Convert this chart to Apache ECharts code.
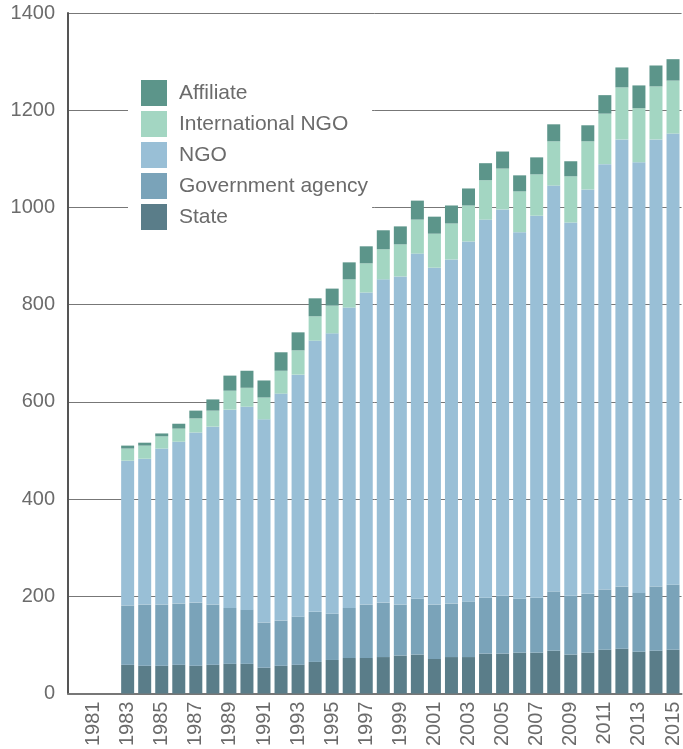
<!DOCTYPE html>
<html>
<head>
<meta charset="utf-8">
<script src="https://cdn.jsdelivr.net/npm/echarts@6/dist/echarts.min.js"></script>
<style>
  html, body { margin: 0; padding: 0; background: #fff; }
  #main { width: 683px; height: 749px; }
</style>
</head>
<body>
<div id="main"></div>
<script>
// years, 1980 is an empty slot so 1981 sits one band in from the axis
var years = [];
for (var y = 1980; y <= 2015; y++) years.push(String(y));

// values from 1983 to 2015 (1980-1982 have no bars)
var state = [59, 57, 57, 59, 57, 59, 61, 61, 53, 57, 59, 65, 69, 73, 73, 75, 78, 80, 71, 75, 75, 82, 82, 84, 84, 88, 80, 84, 90, 92, 86, 88, 90];
var govAgency = [122, 126, 126, 126, 130, 124, 115, 111, 93, 93, 99, 103, 95, 103, 110, 112, 105, 115, 112, 110, 114, 115, 119, 111, 113, 122, 121, 121, 124, 128, 121, 132, 134];
var ngo = [298, 300, 321, 333, 350, 366, 408, 418, 418, 467, 498, 558, 577, 618, 642, 665, 675, 710, 693, 708, 741, 778, 795, 754, 786, 835, 768, 832, 875, 920, 886, 920, 928];
var intlNgo = [25, 27, 25, 27, 29, 33, 39, 39, 45, 47, 50, 50, 57, 58, 60, 62, 66, 70, 70, 74, 74, 81, 84, 84, 85, 91, 95, 99, 104, 107, 111, 109, 109];
var affiliate = [6, 6, 6, 10, 16, 23, 31, 35, 35, 38, 37, 37, 35, 35, 35, 39, 37, 39, 35, 37, 35, 35, 35, 33, 35, 35, 31, 33, 38, 41, 47, 43, 44];

var legendOrder = ['Affiliate', 'International NGO', 'NGO', 'Government agency', 'State'];

function pad(arr) {
  return [null, null, null].concat(arr);
}

var myChart = echarts.init(document.getElementById('main'), null, { renderer: 'canvas' });

var barW = 13;
var txtColor = '#6b6b6b';
function series(name, data, color) {
  return {
    name: name,
    type: 'bar',
    stack: 'total',
    barWidth: barW,
    itemStyle: { color: color },
    emphasis: { disabled: true },
    data: pad(data)
  };
}

var option = {
  animation: false,
  textStyle: { fontFamily: '"Liberation Sans", Arial, sans-serif' },
  grid: { left: 68, right: 0, top: 13, bottom: 54, containLabel: false },
  legend: {
    data: legendOrder,
    orient: 'vertical',
    left: 128,
    top: 70,
    padding: [10, 4, 6, 13],
    backgroundColor: '#fff',
    itemWidth: 26,
    itemHeight: 26,
    itemGap: 5,
    icon: 'rect',
    selectedMode: false,
    textStyle: {
      fontSize: 21,
      color: txtColor,
      padding: [0, 0, 0, 7]
    }
  },
  xAxis: {
    type: 'category',
    data: years,
    axisLine: { lineStyle: { color: '#777', width: 2 } },
    axisTick: { show: false },
    axisLabel: {
      rotate: 90,
      fontSize: 20,
      color: txtColor,
      margin: 8,
      interval: function (idx, val) { return Number(val) % 2 === 1; }
    }
  },
  yAxis: {
    type: 'value',
    min: 0,
    max: 1400,
    interval: 200,
    axisLine: { show: true, lineStyle: { color: '#555', width: 2 } },
    axisTick: { show: false },
    axisLabel: {
      fontSize: 20,
      color: txtColor,
      margin: 13,
      formatter: function (v) { return String(v); }
    },
    splitLine: { lineStyle: { color: '#777', width: 1 } }
  },
  series: [
    series('State', state, '#5a7d89'),
    series('Government agency', govAgency, '#7aa3b9'),
    series('NGO', ngo, '#99bfd6'),
    series('International NGO', intlNgo, '#a3d6c2'),
    series('Affiliate', affiliate, '#5c958a')
  ]
};

myChart.setOption(option);
window.addEventListener('resize', myChart.resize);
</script>
</body>
</html>
